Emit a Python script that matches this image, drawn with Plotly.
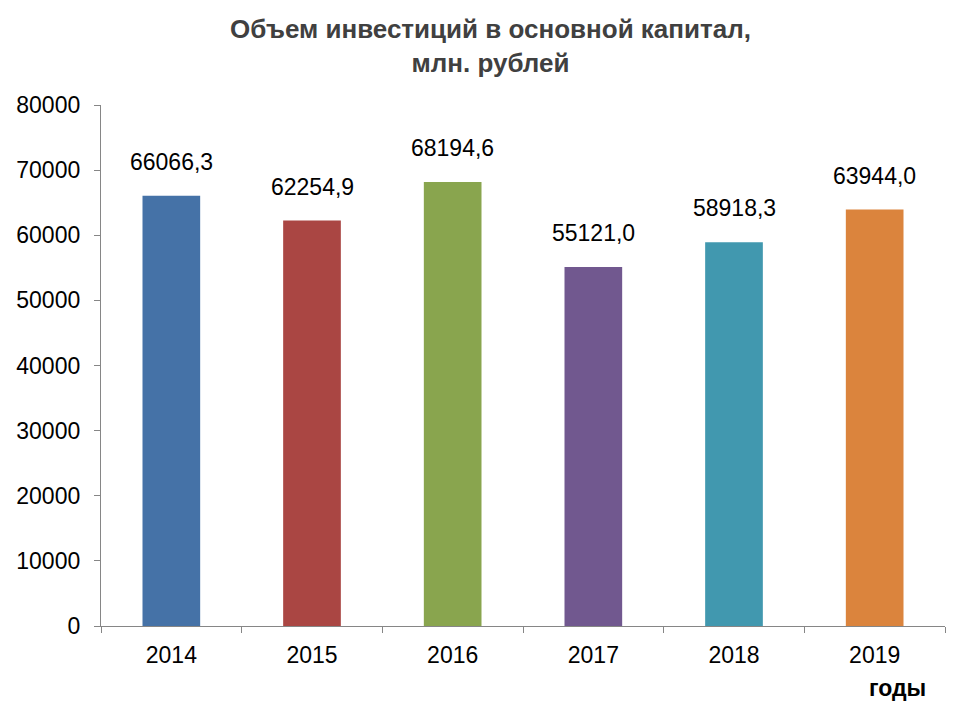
import plotly.graph_objects as go

years = ["2014", "2015", "2016", "2017", "2018", "2019"]
values = [66066.3, 62254.9, 68194.6, 55121.0, 58918.3, 63944.0]
labels = ["66066,3", "62254,9", "68194,6", "55121,0", "58918,3", "63944,0"]
colors = ["#4572A7", "#AA4643", "#89A54E", "#71588F", "#4198AF", "#DB843D"]
y_ticks = [0, 10000, 20000, 30000, 40000, 50000, 60000, 70000, 80000]

FONT = "Liberation Sans, Arial, sans-serif"

fig = go.Figure(go.Bar(x=years, y=values, marker=dict(color=colors, line=dict(width=0)),
                       hoverinfo="skip"))

# value labels (category index used as position on the category axis)
for i, (v, t) in enumerate(zip(values, labels)):
    fig.add_annotation(x=i, y=v, text=t, showarrow=False, yshift=34,
                       font=dict(family=FONT, size=23, color="#000000"))

fig.add_annotation(xref="paper", yref="paper", x=0.944, y=-0.119, text="<b>годы</b>",
                   showarrow=False, xanchor="center", yanchor="middle",
                   font=dict(family=FONT, size=23, color="#000000"))

# title
fig.add_annotation(xref="paper", yref="paper", x=0.461, y=1.113,
                   text="<b>Объем инвестиций в основной капитал,<br>млн. рублей</b>",
                   showarrow=False, xanchor="center", yanchor="middle", align="center",
                   font=dict(family=FONT, size=26, color="#404040"))

# page body has an 8px margin, so the figure is 952x712 placed at (8, 8)
fig.update_layout(
    width=952, height=712,
    margin=dict(l=93, r=15, t=97, b=94, autoexpand=False),
    paper_bgcolor="white", plot_bgcolor="white",
    bargap=0.59,
    showlegend=False,
    xaxis=dict(type="category", showline=True, linecolor="#868686", linewidth=1.3,
               ticks="outside", tickson="boundaries", ticklen=6, tickcolor="#868686",
               tickfont=dict(family=FONT, size=23, color="#000000"), ticklabelstandoff=8,
               showgrid=False, automargin=False, tickangle=0),
    yaxis=dict(range=[0, 80000], tickvals=y_ticks, showline=True, linecolor="#868686",
               linewidth=1.3, ticks="outside", ticklen=6, tickcolor="#868686",
               tickfont=dict(family=FONT, size=23, color="#000000"), ticklabelstandoff=9,
               showgrid=False, zeroline=False, tickformat="d", automargin=False),
)

fig.write_html("out.html")
